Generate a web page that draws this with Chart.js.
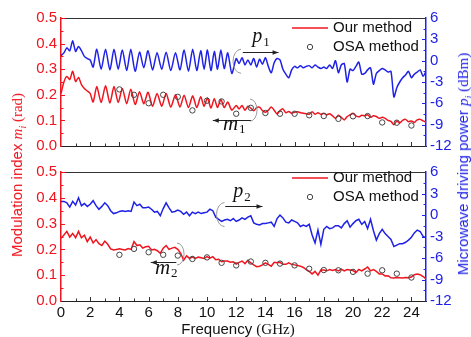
<!DOCTYPE html>
<html>
<head>
<meta charset="utf-8">
<script src="https://cdn.jsdelivr.net/npm/chart.js@4/dist/chart.umd.min.js"></script>
<style>
body { margin: 0; background: #fff; }
#wrap { position: relative; width: 471px; height: 337px; overflow: hidden; font-family: "Liberation Sans", Arial, sans-serif; }
canvas { position: absolute; left: 0; }
.ttl { position: absolute; white-space: nowrap; font-size: 15px; line-height: 18px; transform: translate(-50%, -50%) rotate(-90deg); }
.flat { transform: translate(-50%, -50%); color: #111; }
.serif { font-family: "Liberation Serif", "Times New Roman", serif; }
sub { font-size: 10px; line-height: 0; }
</style>
</head>
<body>
<div id="wrap">
  <canvas id="top" width="471" height="159" style="top:0"></canvas>
  <canvas id="bottom" width="471" height="178" style="top:159px"></canvas>
  <div class="ttl" style="left:17px; top:175px; color:#f0141e">Modulation index <span class="serif"><i>m</i><sub><i>i</i></sub> (rad)</span></div>
  <div class="ttl" style="left:463px; top:164px; color:#1f22e6">Microwave driving power <span class="serif"><i>p</i><sub><i>i</i></sub> (dBm)</span></div>
  <div class="ttl flat" style="left:238px; top:329px">Frequency <span class="serif">(GHz)</span></div>
</div>
<script>
// Data

// panel 1 frequencies (GHz): finer where the ripple is, peaks/troughs 2.2-11.7
const freqTop = [0,0.2,0.4,0.6,0.8,1,1.2,1.4,1.6,1.8,2,
  2.2,2.45,2.75,3.05,3.35,3.63,3.92,4.2,4.5,4.78,
  5.08,5.38,5.67,5.96,6.27,6.58,6.9,7.2,7.52,7.84,
  8.15,8.43,8.73,9.02,9.3,9.57,9.8,10.03,10.27,10.5,
  10.72,10.95,11.18,11.42,11.7,
  12,12.2,12.4,12.6,12.8,13,13.2,13.4,13.6,13.8,
  14,14.2,14.4,14.6,14.8,15,15.2,15.4,15.6,15.8,
  16,16.2,16.4,16.6,16.8,17,17.2,17.4,17.6,17.8,
  18,18.2,18.4,18.6,18.8,19,19.2,19.4,19.6,19.8,
  20,20.2,20.4,20.6,20.8,21,21.2,21.4,21.6,21.8,
  22,22.2,22.4,22.6,22.8,23,23.2,23.4,23.6,23.8,
  24,24.2,24.4,24.6,24.8,25];

// panel 1: modulation index m1 (rad), driving power p1 (dBm)
const m1 = [0.205,0.250,0.272,0.260,0.292,0.252,0.268,0.240,0.225,0.215,0.205,
  0.172,0.232,0.170,0.235,0.168,0.232,0.170,0.225,0.165,0.222,
  0.162,0.212,0.165,0.210,0.155,0.205,0.155,0.205,0.152,0.200,
  0.152,0.198,0.150,0.196,0.150,0.192,0.155,0.188,0.148,0.185,
  0.150,0.182,0.150,0.172,0.140,
  0.158,0.145,0.158,0.140,0.155,0.148,0.138,0.150,0.152,0.138,
  0.132,0.140,0.152,0.140,0.125,0.138,0.145,0.130,0.135,0.128,
  0.132,0.134,0.130,0.128,0.126,0.124,0.134,0.124,0.130,0.124,
  0.128,0.122,0.126,0.118,0.108,0.120,0.112,0.102,0.115,0.122,
  0.128,0.118,0.114,0.120,0.118,0.122,0.112,0.118,0.115,0.108,
  0.112,0.108,0.100,0.096,0.083,0.098,0.090,0.100,0.104,0.095,
  0.098,0.092,0.102,0.104,0.098,0.093];
const p1 = [0.7,1.1,1.8,1.4,2.8,1.3,2.0,1.4,0.6,0.3,0.1,
  -0.9,1.6,-1.2,1.6,-1.3,1.6,-1.2,1.5,-1.4,1.6,
  -1.5,1.2,-1.0,1.4,-1.3,1.1,-1.2,1.2,-1.4,1.1,
  -1.3,1.5,-1.5,1.6,-1.4,1.4,-1.2,1.5,-1.4,1.3,
  -1.2,1.5,-1.1,1.1,-1.8,
  0.3,-0.4,0.4,-0.6,0.1,-0.6,0.3,-0.9,0.2,-0.5,
  0.4,-0.8,-1.7,-0.3,0.3,0.1,-1.2,-1.9,-2.4,-1.3,
  -0.8,-1.0,-0.7,-1.0,-0.8,-0.7,-1.0,-0.6,-0.9,-1.1,
  -0.9,-1.1,-0.6,-1.1,0.0,-1.7,-0.6,-0.4,-3.0,-1.2,
  -1.4,-0.8,-0.2,-1.9,-1.8,-1.3,-1.0,-3.3,-1.8,-1.4,
  -1.1,-1.3,-1.6,-1.5,-5.1,-3.8,-3.0,-2.4,-2.0,-1.5,
  -2.4,-1.9,-1.6,-1.3,-2.2,-1.5];

// panel 2 frequencies (GHz)
const freqBottom = [0,0.2,0.4,0.6,0.8,1,1.2,1.4,1.6,1.8,
  2,2.2,2.4,2.6,2.8,3,3.2,3.4,3.6,3.8,
  4,4.2,4.4,4.6,4.8,5,5.2,5.4,5.6,5.8,
  6,6.2,6.4,6.6,6.8,7,7.2,7.4,7.6,7.8,
  8,8.2,8.4,8.6,8.8,9,9.2,9.4,9.6,9.8,
  10,10.2,10.4,10.6,10.8,11,11.2,11.4,11.6,11.8,
  12,12.2,12.4,12.6,12.8,13,13.2,13.4,13.6,13.8,
  14,14.2,14.4,14.6,14.8,15,15.2,15.4,15.6,15.8,
  16,16.2,16.4,16.6,16.8,17,17.2,17.4,17.6,17.8,
  18,18.2,18.4,18.6,18.8,19,19.2,19.4,19.6,19.8,
  20,20.2,20.4,20.6,20.8,21,21.2,21.4,21.6,21.8,
  22,22.2,22.4,22.6,22.8,23,23.2,23.4,23.6,23.8,
  24,24.2,24.4,24.6,24.8,25];

// panel 2: modulation index m2 (rad), driving power p2 (dBm)
const m2 = [0.243,0.256,0.270,0.248,0.262,0.245,0.270,0.245,0.255,0.230,
  0.248,0.225,0.238,0.222,0.215,0.232,0.220,0.202,0.198,0.200,
  0.202,0.200,0.198,0.203,0.200,0.230,0.215,0.218,0.205,0.210,
  0.212,0.198,0.200,0.195,0.185,0.205,0.215,0.200,0.205,0.208,
  0.200,0.185,0.158,0.175,0.165,0.170,0.165,0.170,0.168,0.165,
  0.172,0.166,0.172,0.160,0.162,0.152,0.155,0.155,0.150,0.152,
  0.143,0.150,0.155,0.145,0.158,0.148,0.140,0.133,0.135,0.140,
  0.148,0.142,0.135,0.150,0.148,0.150,0.142,0.142,0.148,0.142,
  0.140,0.138,0.135,0.130,0.122,0.115,0.105,0.115,0.100,0.120,
  0.120,0.117,0.122,0.118,0.122,0.117,0.124,0.117,0.122,0.120,
  0.118,0.110,0.122,0.117,0.124,0.132,0.117,0.122,0.115,0.105,
  0.105,0.097,0.098,0.090,0.089,0.091,0.090,0.089,0.091,0.090,
  0.093,0.102,0.105,0.102,0.095,0.086];
const p2 = [1.9,1.9,1.7,1.1,1.9,1.4,2.4,1.3,1.6,1.2,
  1.5,2.0,1.3,0.8,1.2,1.7,1.3,0.6,0.2,0.3,
  0.5,0.6,0.5,0.6,0.5,1.8,1.3,1.5,1.0,1.0,
  1.1,0.8,0.4,0.5,-0.1,0.9,1.7,1.0,0.4,0.5,
  0.7,0.5,0.1,0.4,-0.1,0.4,0.2,0.4,0.2,0.3,
  0.4,0.8,0.6,-0.3,-0.6,-0.9,-0.7,-0.6,-0.8,-0.5,
  -0.9,-0.7,-0.4,-0.6,-0.3,-0.1,-1.1,-1.3,-1.4,-1.2,
  -1.2,-1.1,-1.0,-1.6,-0.5,0.0,-0.4,-1.0,-1.1,-0.7,
  -0.9,-1.1,-1.6,-1.4,-1.6,-1.3,-2.8,-3.9,-2.1,-4.1,
  -2.0,-1.6,-1.9,-1.8,-1.5,-1.5,-1.8,-1.2,-0.8,-1.7,
  -1.2,-0.8,-0.6,-1.3,-0.9,-1.9,-0.6,-2.2,-3.5,-2.6,
  -2.0,-2.6,-3.0,-3.4,-4.4,-4.2,-4.0,-4.0,-3.8,-3.5,
  -3.1,-2.5,-2.1,-2.3,-3.0,-3.2];

// OSA method points
const osaFreq = [4,5,6,7,8,9,10,11,12,13,14,15,16,17,18,19,20,21,22,23,24];
const osa1 = [0.221,0.200,0.167,0.200,0.192,0.139,0.177,0.174,0.126,0.149,0.129,0.126,0.126,0.120,0.117,0.106,0.116,0.117,0.092,0.091,0.080];
const osa2 = [0.179,0.202,0.189,0.179,0.176,0.163,0.169,0.148,0.138,0.153,0.148,0.145,0.138,0.125,0.120,0.119,0.113,0.106,0.119,0.106,0.091];

// tick labels
const xTickLabels = [0,2,4,6,8,10,12,14,16,18,20,22,24];
const mTickLabels = [0,0.1,0.2,0.3,0.4,0.5];
const pTickLabels = [-12,-9,-6,-3,0,3,6];
const legendLabels = ['Our method', 'OSA method'];

const RED = '#f0141e';
const BLUE = '#1f22e6';
const FONT = '"Liberation Sans", Arial, sans-serif';

function pairs(xs, ys) {
    return xs.map((x, i) => ({ x: x, y: ys[i] }));
}

function line(ctx, x1, y1, x2, y2) {
    ctx.beginPath();
    ctx.moveTo(x1, y1);
    ctx.lineTo(x2, y2);
    ctx.stroke();
}

function arrow(ctx, x1, x2, y) {
    line(ctx, x1, y, x2, y);
    const d = x2 > x1 ? 1 : -1;
    ctx.beginPath();
    ctx.moveTo(x2, y);
    ctx.lineTo(x2 - d * 6, y - 2.2);
    ctx.lineTo(x2 - d * 6, y + 2.2);
    ctx.closePath();
    ctx.fill();
}

// inward ticks, top border, legend and annotations
const frame = {
    id: 'frame',
    afterDraw(chart, args, opts) {
        const { ctx, chartArea: a, scales } = chart;
        const X = v => scales.x.getPixelForValue(v);
        const YL = v => scales.yL.getPixelForValue(v);
        const YR = v => scales.yR.getPixelForValue(v);
        ctx.save();
        ctx.lineWidth = 1;

        ctx.strokeStyle = '#333';
        line(ctx, a.left, a.top + 0.5, a.right, a.top + 0.5);
        for (let v = 1; v < 25; v++) {
            const x = Math.round(X(v)) + 0.5;
            line(ctx, x, a.bottom, x, a.bottom - (v % 2 === 0 ? 4 : 2.5));
        }
        ctx.strokeStyle = RED;
        for (let v = 0.05; v < 0.5; v += 0.05) {
            const y = Math.round(YL(v)) + 0.5;
            const major = Math.abs(v * 10 - Math.round(v * 10)) < 0.01;
            line(ctx, a.left, y, a.left + (major ? 4 : 2.5), y);
        }
        ctx.strokeStyle = BLUE;
        for (let v = -10.5; v < 6; v += 1.5) {
            const y = Math.round(YR(v)) + 0.5;
            line(ctx, a.right, y, a.right - (v % 3 === 0 ? 4 : 2.5), y);
        }

        // legend
        ctx.strokeStyle = RED;
        ctx.lineWidth = 1.5;
        line(ctx, 292, opts.legendY[0], 328, opts.legendY[0]);
        ctx.strokeStyle = '#444';
        ctx.lineWidth = 1;
        ctx.beginPath();
        ctx.arc(310, opts.legendY[1], 2.7, 0, Math.PI * 2);
        ctx.stroke();
        ctx.fillStyle = '#111';
        ctx.font = '15px ' + FONT;
        ctx.textBaseline = 'middle';
        ctx.fillText(legendLabels[0], 333, opts.legendY[0]);
        ctx.fillText(legendLabels[1], 333, opts.legendY[1]);

        // annotations
        const n = opts.notes;
        ctx.strokeStyle = '#999';
        ctx.beginPath();
        ctx.ellipse(X(n.pArc[0]), YL(n.pArc[1]), 8, 12, 0, Math.PI * 0.5, Math.PI * 1.5);
        ctx.stroke();
        ctx.beginPath();
        ctx.ellipse(X(n.mArc[0]), YL(n.mArc[1]), 7, 11, 0, -Math.PI * 0.5, Math.PI * 0.5);
        ctx.stroke();
        ctx.strokeStyle = '#222';
        ctx.fillStyle = '#222';
        arrow(ctx, X(n.pArrow[0]), X(n.pArrow[1]), Math.round(YL(n.pArrow[2])) + 0.5);
        arrow(ctx, X(n.mArrow[0]), X(n.mArrow[1]), Math.round(YL(n.mArrow[2])) + 0.5);

        ctx.fillStyle = '#111';
        ctx.textBaseline = 'alphabetic';
        let x = X(n.pText[0]), y = YL(n.pText[1]);
        ctx.font = 'italic 20px "Liberation Serif", serif';
        ctx.fillText('p', x, y);
        ctx.font = '13px "Liberation Serif", serif';
        ctx.fillText(n.sub, x + 11, y + 4);
        x = X(n.mText[0]); y = YL(n.mText[1]);
        ctx.font = 'italic 21px "Liberation Serif", serif';
        ctx.fillText('m', x, y);
        ctx.font = '13px "Liberation Serif", serif';
        ctx.fillText(n.sub, x + 16, y + 3);
        ctx.restore();
    }
};

function makeChart(id, xs, mData, pData, osaData, opt) {
    const tickFont = { family: FONT, size: 15 };
    return new Chart(document.getElementById(id), {
        type: 'line',
        data: {
            datasets: [
                {
                    data: pairs(osaFreq, osaData), yAxisID: 'yL', showLine: false,
                    pointRadius: 2.7, pointBorderColor: '#444', pointBorderWidth: 1,
                    pointBackgroundColor: 'rgba(0,0,0,0)'
                },
                {
                    data: pairs(xs, mData), yAxisID: 'yL', borderColor: RED,
                    borderWidth: 1.5, pointRadius: 0, tension: opt.tension
                },
                {
                    data: pairs(xs, pData), yAxisID: 'yR', borderColor: BLUE,
                    borderWidth: 1.5, pointRadius: 0, tension: opt.tension
                }
            ]
        },
        options: {
            responsive: false,
            animation: false,
            devicePixelRatio: 1,
            layout: { padding: { top: opt.padTop, left: 0, right: 0, bottom: 0 } },
            plugins: {
                legend: { display: false },
                tooltip: { enabled: false },
                frame: { legendY: opt.legendY, notes: opt.notes }
            },
            scales: {
                x: {
                    type: 'linear', min: 0, max: 25,
                    afterBuildTicks: s => { s.ticks = xTickLabels.map(v => ({ value: v })); },
                    afterFit: s => { s.height = opt.xHeight; },
                    ticks: { display: opt.showX, color: '#111', font: tickFont, padding: 3, maxRotation: 0, autoSkip: false },
                    grid: { display: false, drawTicks: false },
                    border: { color: '#222', width: 1 }
                },
                yL: {
                    position: 'left', min: 0, max: 0.5,
                    afterBuildTicks: s => { s.ticks = mTickLabels.map(v => ({ value: v })); },
                    afterFit: s => { s.width = 61; },
                    ticks: { color: RED, font: tickFont, padding: 4, callback: v => v.toFixed(1) },
                    grid: { display: false, drawTicks: false },
                    border: { color: RED, width: 1.5 }
                },
                yR: {
                    position: 'right', min: -12, max: 6,
                    afterBuildTicks: s => { s.ticks = pTickLabels.map(v => ({ value: v })); },
                    afterFit: s => { s.width = 45; },
                    ticks: { color: BLUE, font: tickFont, padding: 4, callback: v => String(v) },
                    grid: { display: false, drawTicks: false },
                    border: { color: BLUE, width: 1.5 }
                }
            }
        },
        plugins: [frame]
    });
}

makeChart('top', freqTop, m1, p1, osa1, {
    padTop: 18, xHeight: 9, showX: false, legendY: [28, 47], tension: 0.25,
    notes: { sub: '1', pArc: [12.33, 0.331], pArrow: [12.45, 14.9, 0.367], pText: [13.1, 0.407],
             mArc: [12.95, 0.140], mArrow: [13.0, 10.4, 0.102], mText: [11.1, 0.061] }
});
makeChart('bottom', freqBottom, m2, p2, osa2, {
    padTop: 9, xHeight: 36, showX: true, legendY: [19, 38], tension: 0,
    notes: { sub: '2', pArc: [11.2, 0.335], pArrow: [11.25, 13.8, 0.367], pText: [11.8, 0.402],
             mArc: [7.95, 0.182], mArrow: [7.9, 6.15, 0.151], mText: [6.44, 0.105] }
});
</script>
</body>
</html>
